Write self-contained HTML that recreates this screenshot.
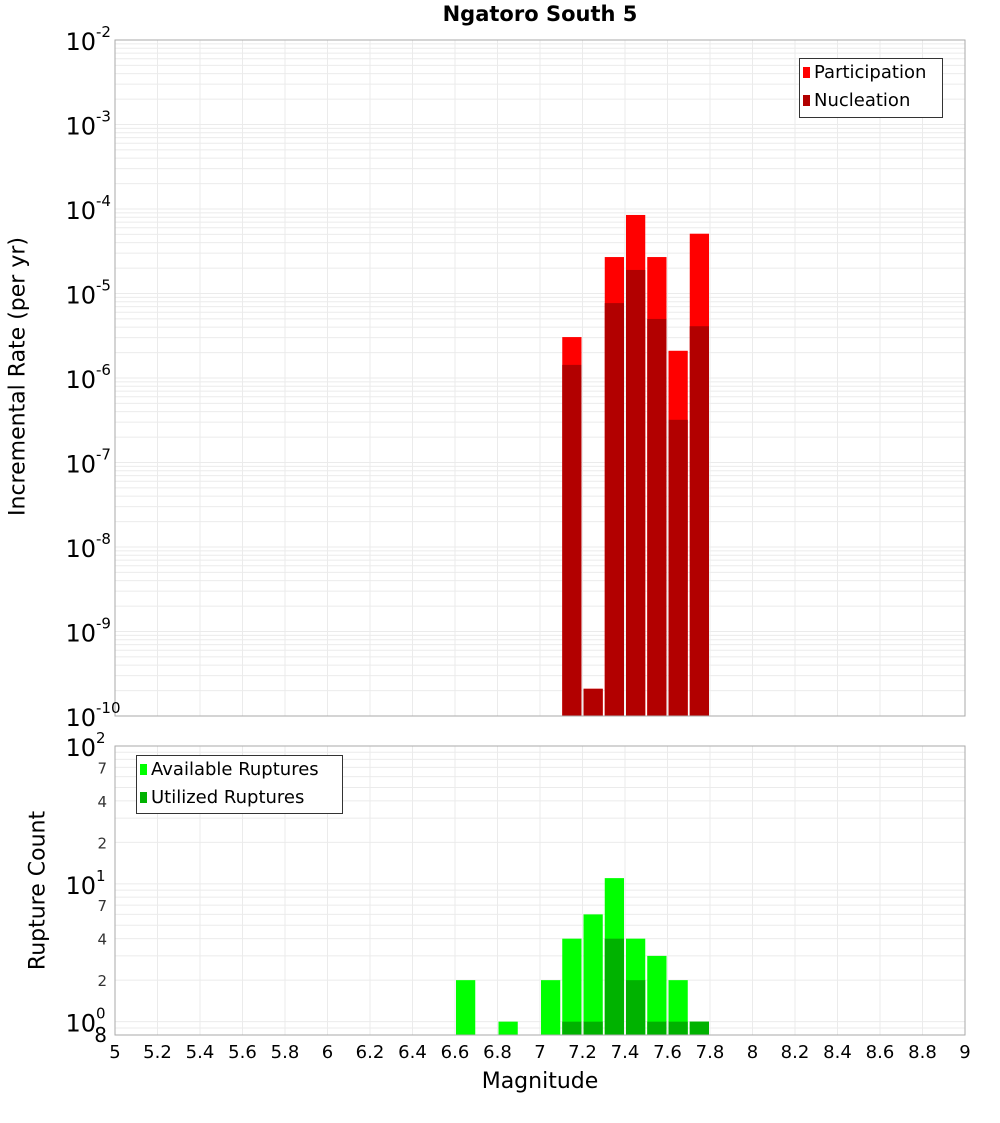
<!DOCTYPE html>
<html><head><meta charset="utf-8"><style>
body{margin:0;background:#fff;font-family:"Liberation Sans","DejaVu Sans",sans-serif}
svg text{font-family:"DejaVu Sans","Liberation Sans",sans-serif}
</style></head><body>
<svg id="c" width="1000" height="1100"></svg>
<script>
const mags=[7.15,7.25,7.35,7.45,7.55,7.65,7.75];
const participation=[3.05e-6,2.1e-10,2.7e-5,8.5e-5,2.7e-5,2.1e-6,5.1e-5];
const nucleation=[1.43e-6,2.1e-10,7.7e-6,1.9e-5,5e-6,3.2e-7,4.1e-6];
const countMags=[6.65,6.85,7.05,7.15,7.25,7.35,7.45,7.55,7.65,7.75];
const available=[2,1,2,4,6,11,4,3,2,1];
const utilizedMags=[7.15,7.25,7.35,7.45,7.55,7.65,7.75];
const utilized=[1,1,4,2,1,1,1];
const xTicks=[5,5.2,5.4,5.6,5.8,6,6.2,6.4,6.6,6.8,7,7.2,7.4,7.6,7.8,8,8.2,8.4,8.6,8.8,9];
const topExps=[-2,-3,-4,-5,-6,-7,-8,-9,-10];
const botMinorLabels=[2,4,7];

const NS="http://www.w3.org/2000/svg";
const svg=document.getElementById('c');
function mk(t,a,p){const e=document.createElementNS(NS,t);for(const k in a)e.setAttribute(k,a[k]);(p||svg).appendChild(e);return e;}
const L=115,R=965;
const x=m=>L+(m-5)/4*(R-L);
const T1=40,B1=716,T2=746,B2=1035;
const y1=v=>T1+(-2-Math.log10(v))/8*(B1-T1);
const bLo=Math.log10(0.8),bHi=2;
const y2=v=>B2-(Math.log10(v)-bLo)/(bHi-bLo)*(B2-T2);

// grids
for(const [T,B,yf,lo,hi] of [[T1,B1,y1,-10,-2],[T2,B2,y2,-1,2]]){
  for(let e=lo;e<hi;e++)for(let k=1;k<10;k++){const v=k*Math.pow(10,e);const yy=yf(v);if(yy<T-0.5||yy>B+0.5)continue;
    const g=mk('line',{x1:L,x2:R,y1:yy,y2:yy,stroke:'#ebebeb','stroke-width':1});
    
    }
  xTicks.forEach(t=>{const g=mk('line',{x1:x(t),x2:x(t),y1:T,y2:B,stroke:'#ebebeb','stroke-width':1});
    
    });
}
const bw=(x(0.1)-x(0));
function bar(m,v,yf,base,col,name){const yt=yf(v);const r=mk('rect',{x:x(m)-bw/2+1,y:yt,width:bw-2,height:base-yt,fill:col});
  
  }
mags.forEach((m,i)=>bar(m,participation[i],y1,B1,'#ff0000','participation-bar'));
mags.forEach((m,i)=>bar(m,nucleation[i],y1,B1,'#b20000','nucleation-bar'));
countMags.forEach((m,i)=>bar(m,available[i],y2,B2,'#00ff00','available-bar'));
utilizedMags.forEach((m,i)=>bar(m,utilized[i],y2,B2,'#00b200','utilized-bar'));

// frames
mk('rect',{x:L,y:T1,width:R-L,height:B1-T1,fill:'none',stroke:'#aaa',});
mk('rect',{x:L,y:T2,width:R-L,height:B2-T2,fill:'none',stroke:'#aaa',});

// top y labels
topExps.forEach(e=>{const yy=y1(Math.pow(10,e));const t=mk('text',{x:96,y:yy+10,'text-anchor':'end','font-size':24,fill:'#000'});t.textContent='10';
  
  
  const s=mk('text',{x:96,y:yy-3,'font-size':15,fill:'#000'});s.textContent=String(e);
  
  });
// bottom y labels
[0,1,2].forEach(e=>{const yy=y2(Math.pow(10,e));const t=mk('text',{x:96,y:yy+10,'text-anchor':'end','font-size':24});t.textContent='10';
  
  
  const s=mk('text',{x:96,y:yy-3,'font-size':15});s.textContent=String(e);
  
  });
[0,1].forEach(e=>botMinorLabels.forEach(k=>{const yy=y2(k*Math.pow(10,e));const t=mk('text',{x:107,y:yy+6,'text-anchor':'end','font-size':15,fill:'#333'});t.textContent=String(k);
  
  }));
const t8=mk('text',{x:107,y:1042,'text-anchor':'end','font-size':20});t8.textContent='8';


// x labels
xTicks.forEach(v=>{const t=mk('text',{x:x(v),y:1058,'text-anchor':'middle','font-size':18});t.textContent=String(v);
  
  });
</script>
<svg width="0" height="0"></svg>
<div style="position:absolute;left:0;top:0;width:1000px;height:1100px;pointer-events:none">
<div style="position:absolute;left:0;width:1080px;top:2px;text-align:center;font:bold 21px 'DejaVu Sans','Liberation Sans',sans-serif">Ngatoro South 5</div>
<div style="position:absolute;left:440px;width:200px;top:1069px;text-align:center;font:22px 'DejaVu Sans','Liberation Sans',sans-serif">Magnitude</div>
<div style="position:absolute;left:-132px;top:364px;width:300px;text-align:center;transform:rotate(-90deg);font:22px 'DejaVu Sans','Liberation Sans',sans-serif">Incremental Rate (per yr)</div>
<div style="position:absolute;left:-62px;top:878px;width:200px;text-align:center;transform:rotate(-90deg);font:22px 'DejaVu Sans','Liberation Sans',sans-serif">Rupture Count</div>
<div style="position:absolute;left:799px;top:58px;width:142px;height:58px;border:1px solid #333;background:#fff;font:18px 'DejaVu Sans','Liberation Sans',sans-serif;line-height:28px">
 <div style="padding-left:3px"><span style="display:inline-block;width:7px;height:11px;background:#f00;margin-right:4px"></span>Participation</div>
 <div style="padding-left:3px"><span style="display:inline-block;width:7px;height:11px;background:#b20000;margin-right:4px"></span>Nucleation</div>
</div>
<div style="position:absolute;left:136px;top:755px;width:205px;height:57px;border:1px solid #333;background:#fff;font:18px 'DejaVu Sans','Liberation Sans',sans-serif;line-height:28px">
 <div style="padding-left:3px"><span style="display:inline-block;width:7px;height:11px;background:#0f0;margin-right:4px"></span>Available Ruptures</div>
 <div style="padding-left:3px"><span style="display:inline-block;width:7px;height:11px;background:#00b200;margin-right:4px"></span>Utilized Ruptures</div>
</div>
</div>
</body></html>
